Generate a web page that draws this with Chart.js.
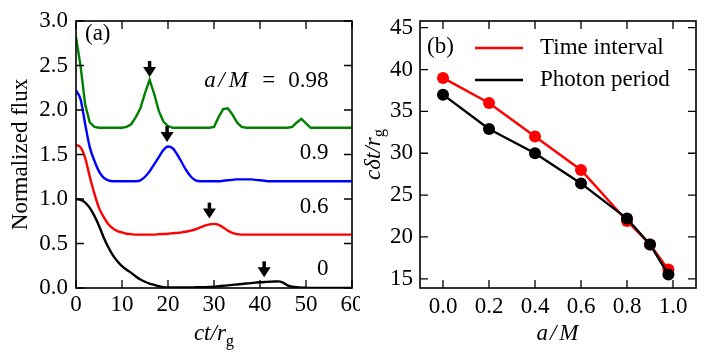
<!DOCTYPE html>
<html>
<head>
<meta charset="utf-8">
<script src="https://cdn.jsdelivr.net/npm/chart.js@4.4.1/dist/chart.umd.min.js"></script>
<style>
  html, body { margin: 0; padding: 0; background: #fff; }
  #wrap { position: relative; width: 708px; height: 360px; }
  #boxA { position: absolute; left: 0; top: 0; width: 360px; height: 360px; }
  #boxB { position: absolute; left: 360px; top: 0; width: 348px; height: 360px; }
</style>
</head>
<body>
<div id="wrap">
  <div id="boxA"><canvas id="fluxChart"></canvas></div>
  <div id="boxB"><canvas id="periodChart"></canvas></div>
</div>
<script>
// ---- panel (a): normalized flux vs ct/r_g ----
const timeValues = [0, 1, 2, 3, 4, 5, 6, 7, 8, 9, 10, 11, 12, 13, 14, 15, 16, 17, 18, 19, 20,
  21, 22, 23, 24, 25, 26, 27, 28, 29, 30, 31, 32, 33, 34, 35, 36, 37, 38, 39, 40,
  41, 42, 43, 44, 45, 46, 47, 48, 49, 50, 51, 52, 53, 54, 55, 56, 57, 58, 59, 60];

const flux098 = [2.82, 2.49, 2.06, 1.86, 1.81, 1.80, 1.80, 1.80, 1.80, 1.80, 1.80,
  1.81, 1.84, 1.92, 2.02, 2.19, 2.34, 2.18, 1.99, 1.87, 1.82,
  1.80, 1.80, 1.80, 1.80, 1.80, 1.80, 1.80, 1.80, 1.80, 1.81,
  1.92, 2.01, 2.02, 1.95, 1.86, 1.81, 1.80, 1.80, 1.80, 1.80,
  1.80, 1.80, 1.80, 1.80, 1.80, 1.80, 1.81, 1.86, 1.90, 1.85,
  1.80, 1.80, 1.80, 1.80, 1.80, 1.80, 1.80, 1.80, 1.80, 1.80];

const flux09 = [2.22, 2.12, 1.84, 1.58, 1.43, 1.31, 1.24, 1.21, 1.20, 1.20, 1.20,
  1.20, 1.20, 1.20, 1.21, 1.25, 1.31, 1.39, 1.47, 1.55, 1.59,
  1.57, 1.50, 1.41, 1.32, 1.25, 1.21, 1.20, 1.20, 1.20, 1.20,
  1.20, 1.205, 1.21, 1.215, 1.22, 1.22, 1.22, 1.22, 1.215, 1.21,
  1.205, 1.20, 1.20, 1.20, 1.20, 1.20, 1.20, 1.20, 1.20, 1.20,
  1.20, 1.20, 1.20, 1.20, 1.20, 1.20, 1.20, 1.20, 1.20, 1.20];

const flux06 = [1.61, 1.58, 1.46, 1.25, 1.06, 0.90, 0.80, 0.72, 0.67, 0.64, 0.625,
  0.61, 0.605, 0.60, 0.60, 0.60, 0.60, 0.60, 0.605, 0.607, 0.61,
  0.615, 0.62, 0.625, 0.635, 0.645, 0.66, 0.68, 0.70, 0.715, 0.72,
  0.71, 0.68, 0.645, 0.62, 0.605, 0.60, 0.60, 0.60, 0.60, 0.60,
  0.60, 0.60, 0.60, 0.60, 0.60, 0.60, 0.60, 0.60, 0.60, 0.60,
  0.60, 0.60, 0.60, 0.60, 0.60, 0.60, 0.60, 0.60, 0.60, 0.60];

const flux0 = [1.00, 0.99, 0.96, 0.90, 0.81, 0.70, 0.57, 0.46, 0.37, 0.30, 0.245,
  0.205, 0.17, 0.13, 0.095, 0.07, 0.05, 0.035, 0.02, 0.01, 0.005,
  0.005, 0.005, 0.006, 0.006, 0.007, 0.008, 0.009, 0.01, 0.012, 0.015,
  0.02, 0.025, 0.03, 0.035, 0.04, 0.045, 0.05, 0.055, 0.06, 0.065,
  0.068, 0.07, 0.073, 0.075, 0.06, 0.03, 0.015, 0.008, 0.004, 0.002,
  0, 0, 0, 0, 0, 0, 0, 0, 0, 0];

const timeTicks = [0, 10, 20, 30, 40, 50, 60];
const fluxTicks = [0, 0.5, 1.0, 1.5, 2.0, 2.5, 3.0];

// arrows marking the peaks (tip position)
const arrowTimes = [16, 19.8, 29, 40.9];
const arrowFlux = [2.37, 1.64, 0.78, 0.12];

// spin labels next to each curve
const curveLabels = ['0.98', '0.9', '0.6', '0'];
const labelFlux = [2.33, 1.52, 0.91, 0.21];
const labelTime = 54.9;

// ---- panel (b): c dt / r_g vs a/M ----
const spinValues = [0, 0.2, 0.4, 0.6, 0.8, 0.9, 0.98];
const timeInterval = [39, 36, 32, 28, 21.9, 19.1, 16.1];
const photonPeriod = [37, 32.9, 30, 26.4, 22.2, 19.1, 15.5];
const spinTicks = [0, 0.2, 0.4, 0.6, 0.8, 1.0];
const periodTicks = [15, 20, 25, 30, 35, 40, 45];

const FAMILY = "'Liberation Serif', 'DejaVu Serif', serif";
const FS = 23;

function points(xs, ys) {
  return xs.map((x, i) => ({ x: x, y: ys[i] }));
}

// draw a run of text pieces (italic / roman / subscript)
function drawParts(ctx, parts, x, y, align) {
  const fontFor = p => (p.italic ? 'italic ' : '') + (p.sub ? FS * 0.72 : FS) + 'px ' + FAMILY;
  const widths = parts.map(p => {
    ctx.font = fontFor(p);
    return ctx.measureText(p.text).width + (p.gap || 0);
  });
  const total = widths.reduce((a, b) => a + b, 0);
  let cx = x;
  if (align === 'center') cx = x - total / 2;
  if (align === 'right') cx = x - total;
  ctx.textAlign = 'left';
  parts.forEach((p, i) => {
    ctx.font = fontFor(p);
    ctx.fillText(p.text, cx + (p.gap || 0) / 2, p.sub ? y + FS * 0.25 : y);
    cx += widths[i];
  });
}

// frame with inward ticks on all four sides
function drawFrame(chart, xTicks, yTicks) {
  const ctx = chart.ctx;
  const a = chart.chartArea;
  const xs = chart.scales.x, ys = chart.scales.y;
  ctx.save();
  ctx.strokeStyle = '#000';
  ctx.lineWidth = 1.3;
  ctx.beginPath();
  xTicks.forEach(v => {
    const px = xs.getPixelForValue(v);
    ctx.moveTo(px, a.bottom); ctx.lineTo(px, a.bottom - 8);
    ctx.moveTo(px, a.top); ctx.lineTo(px, a.top + 8);
  });
  yTicks.forEach(v => {
    const py = ys.getPixelForValue(v);
    ctx.moveTo(a.left, py); ctx.lineTo(a.left + 8, py);
    ctx.moveTo(a.right, py); ctx.lineTo(a.right - 8, py);
  });
  ctx.stroke();
  ctx.lineWidth = 1.6;
  ctx.strokeRect(a.left, a.top, a.right - a.left, a.bottom - a.top);
  ctx.restore();
}

const panelAPlugin = {
  id: 'panelA',
  afterDatasetsDraw(chart) {
    const ctx = chart.ctx;
    const a = chart.chartArea;
    const xs = chart.scales.x, ys = chart.scales.y;
    drawFrame(chart, timeTicks, fluxTicks);
    ctx.save();
    ctx.fillStyle = '#000';
    ctx.strokeStyle = '#000';
    // arrows
    arrowTimes.forEach((t, i) => {
      const px = xs.getPixelForValue(t);
      const py = ys.getPixelForValue(arrowFlux[i]);
      ctx.lineWidth = 3.5;
      ctx.beginPath();
      ctx.moveTo(px, py - 16); ctx.lineTo(px, py - 8);
      ctx.stroke();
      ctx.beginPath();
      ctx.moveTo(px - 6.5, py - 10); ctx.lineTo(px + 6.5, py - 10); ctx.lineTo(px, py);
      ctx.closePath();
      ctx.fill();
    });
    // curve labels
    ctx.textBaseline = 'middle';
    curveLabels.forEach((lab, i) => {
      const px = xs.getPixelForValue(labelTime);
      const py = ys.getPixelForValue(labelFlux[i]);
      if (i === 0) {
        drawParts(ctx, [{ text: 'a', italic: true }, { text: '/', italic: true, gap: 5 },
          { text: 'M', italic: true, gap: 3 }, { text: '=', gap: 26 }, { text: lab }], px, py, 'right');
      } else {
        drawParts(ctx, [{ text: lab }], px, py, 'right');
      }
    });
    drawParts(ctx, [{ text: '(a)' }], a.left + 9, a.top + 13, 'left');
    // axis titles
    ctx.textBaseline = 'alphabetic';
    drawParts(ctx, [{ text: 'ct/r', italic: true }, { text: 'g', sub: true }], (a.left + a.right) / 2, 340, 'center');
    ctx.translate(a.left - 55, (a.top + a.bottom) / 2);
    ctx.rotate(-Math.PI / 2);
    ctx.textBaseline = 'middle';
    drawParts(ctx, [{ text: 'Normalized flux' }], 0, 0, 'center');
    ctx.restore();
  }
};

const panelBPlugin = {
  id: 'panelB',
  afterDatasetsDraw(chart) {
    const ctx = chart.ctx;
    const a = chart.chartArea;
    drawFrame(chart, spinTicks, periodTicks);
    ctx.save();
    ctx.fillStyle = '#000';
    // legend (lines only)
    chart.data.datasets.forEach((ds, i) => {
      const y = a.top + 27 + i * 32;
      ctx.strokeStyle = ds.borderColor;
      ctx.lineWidth = 2.5;
      ctx.beginPath();
      ctx.moveTo(a.left + 55, y); ctx.lineTo(a.left + 103, y);
      ctx.stroke();
      ctx.textBaseline = 'middle';
      drawParts(ctx, [{ text: ds.label }], a.left + 120, y, 'left');
    });
    ctx.textBaseline = 'middle';
    drawParts(ctx, [{ text: '(b)' }], a.left + 7, a.top + 26, 'left');
    ctx.textBaseline = 'alphabetic';
    drawParts(ctx, [{ text: 'a', italic: true }, { text: '/', italic: true, gap: 4 }, { text: 'M', italic: true, gap: 2 }],
      (a.left + a.right) / 2, 340, 'center');
    ctx.translate(14, (a.top + a.bottom) / 2);
    ctx.rotate(-Math.PI / 2);
    ctx.textBaseline = 'middle';
    drawParts(ctx, [{ text: 'c\u03b4t/r', italic: true }, { text: 'g', sub: true }], 0, 0, 'center');
    ctx.restore();
  }
};

function axis(min, max, tickList, fmt, size, pad, isX) {
  return {
    type: 'linear',
    min: min,
    max: max,
    grid: { display: false, drawTicks: false },
    border: { display: false },
    afterBuildTicks: s => { s.ticks = tickList.map(v => ({ value: v })); },
    afterFit: s => {
      if (isX) s.height = size; else s.width = size;
      s.paddingLeft = 0; s.paddingRight = 0; s.paddingTop = 0; s.paddingBottom = 0;
    },
    ticks: {
      color: '#000',
      padding: pad,
      maxRotation: 0,
      autoSkip: false,
      font: { family: FAMILY, size: FS },
      callback: fmt
    }
  };
}

const lineStyle = { pointRadius: 0, borderWidth: 2.4, fill: false };

new Chart(document.getElementById('fluxChart'), {
  type: 'line',
  data: {
    datasets: [
      Object.assign({ label: '0.98', data: points(timeValues, flux098), borderColor: '#008000', tension: 0 }, lineStyle),
      Object.assign({ label: '0.9', data: points(timeValues, flux09), borderColor: '#0000ff', cubicInterpolationMode: 'monotone' }, lineStyle),
      Object.assign({ label: '0.6', data: points(timeValues, flux06), borderColor: '#ff0000', cubicInterpolationMode: 'monotone' }, lineStyle),
      Object.assign({ label: '0', data: points(timeValues, flux0), borderColor: '#000000', cubicInterpolationMode: 'monotone' }, lineStyle)
    ]
  },
  options: {
    responsive: true,
    maintainAspectRatio: false,
    animation: false,
    layout: { padding: { top: 21, right: 8, left: 0, bottom: 0 } },
    plugins: { legend: { display: false }, tooltip: { enabled: false } },
    scales: {
      x: axis(0, 60, timeTicks, v => String(v), 72, 3, true),
      y: axis(0, 3, fluxTicks, v => v.toFixed(1), 76, 8, false)
    }
  },
  plugins: [panelAPlugin]
});

new Chart(document.getElementById('periodChart'), {
  type: 'line',
  data: {
    datasets: [
      { label: 'Time interval', data: points(spinValues, timeInterval), borderColor: '#ff0000', backgroundColor: '#ff0000',
        borderWidth: 2.4, pointRadius: 6, pointBorderWidth: 0, order: 1 },
      { label: 'Photon period', data: points(spinValues, photonPeriod), borderColor: '#000000', backgroundColor: '#000000',
        borderWidth: 2.4, pointRadius: 6, pointBorderWidth: 0, order: 0 }
    ]
  },
  options: {
    responsive: true,
    maintainAspectRatio: false,
    animation: false,
    layout: { padding: { top: 21, right: 12, left: 0, bottom: 0 } },
    plugins: { legend: { display: false }, tooltip: { enabled: false } },
    scales: {
      x: axis(-0.1, 1.1, spinTicks, v => v.toFixed(1), 72, 5, true),
      y: axis(13.9, 45.8, periodTicks, v => String(v), 60, 7, false)
    }
  },
  plugins: [panelBPlugin]
});
</script>
</body>
</html>
